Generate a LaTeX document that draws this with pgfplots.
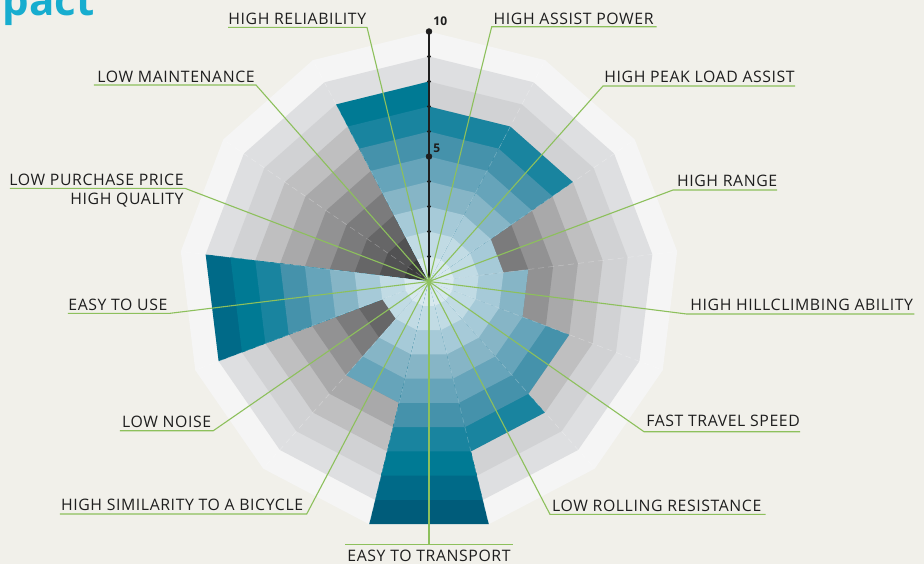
\documentclass[border=0pt]{standalone}
\usepackage{fontspec}
\setmainfont{Open Sans}
\newfontfamily\labelfont{Open Sans}[LetterSpace=3.8]
\usepackage{pgfplots}
\usepackage{pgfplotstable}
\pgfplotsset{compat=1.18}
\usepgfplotslibrary{polar}

\definecolor{bg}{HTML}{F1F0EA}
\definecolor{leaf}{HTML}{8DC05C}
\definecolor{ink}{HTML}{1E1E1E}
\definecolor{headline}{HTML}{17ADCF}
% grey rings, 1 = innermost
\definecolor{gr1}{HTML}{3C3C3D}
\definecolor{gr2}{HTML}{525253}
\definecolor{gr3}{HTML}{666667}
\definecolor{gr4}{HTML}{7B7B7C}
\definecolor{gr5}{HTML}{929293}
\definecolor{gr6}{HTML}{A9A9AA}
\definecolor{gr7}{HTML}{BFBFC0}
\definecolor{gr8}{HTML}{D1D2D4}
\definecolor{gr9}{HTML}{DEDFE1}
\definecolor{gr10}{HTML}{F5F5F5}
% blue rings
\definecolor{bl1}{HTML}{D7E8EE}
\definecolor{bl2}{HTML}{C1DBE4}
\definecolor{bl3}{HTML}{A6CAD8}
\definecolor{bl4}{HTML}{86B5C6}
\definecolor{bl5}{HTML}{66A4BA}
\definecolor{bl6}{HTML}{4592AB}
\definecolor{bl7}{HTML}{19849F}
\definecolor{bl8}{HTML}{007A94}
\definecolor{bl9}{HTML}{006A88}
\definecolor{bl10}{HTML}{005C7A}

% sector k runs from 90+k*360/13 to 90+(k+1)*360/13 degrees
\pgfplotstableread{
sector value
0  8
1  0
2  0
3  9
4  2
5  5
6  10
7  7
8  6
9  4
10 3
11 7
12 7
}\ratings

\begin{document}
\begin{tikzpicture}[x=1pt,y=1pt,font=\labelfont\fontsize{7.9}{9.5}\selectfont]
\useasboundingbox (-214.5,-141.25) rectangle (247.5,140.75);
\clip (-214.5,-141.25) rectangle (247.5,140.75);
\fill[bg] (-214.5,-141.25) rectangle (247.5,140.75);
\node[text=headline, font=\rmfamily\fontsize{21}{21}\selectfont\bfseries, anchor=base east, inner sep=0]
  at (-167,133.25) {Impact};

\begin{polaraxis}[
  at={(0,0)}, anchor=origin,
  scale only axis, width=250pt, height=250pt,
  xmin=0, xmax=360, ymin=0, ymax=10,
  hide axis, clip=false,
]
% grey 13-gon rings
\pgfplotsinvokeforeach{10,9,8,7,6,5,4,3,2,1}{
  \addplot[fill=gr#1, draw=none] coordinates {(90,#1) (117.692,#1) (145.385,#1) (173.077,#1)
    (200.769,#1) (228.462,#1) (256.154,#1) (283.846,#1) (311.538,#1) (339.231,#1)
    (366.923,#1) (394.615,#1) (422.308,#1)} -- cycle;
}
% blue part of each sector up to its rating
\pgfplotsinvokeforeach{0,1,2,3,4,5,6,7,8,9,10,11,12}{
  \pgfplotstablegetelem{#1}{value}\of\ratings
  \pgfmathtruncatemacro\vv{\pgfplotsretval}
  \pgfmathsetmacro\aA{90+#1*360/13}
  \pgfmathsetmacro\aB{90+(#1+1)*360/13}
  \ifnum\vv>0
    \foreach \i in {\vv,...,1}{
      \edef\tmp{\noexpand\addplot[fill=bl\i, draw=none] coordinates {(\aA,0) (\aA,\i) (\aB,\i)} -- cycle;}
      \tmp
    }
  \fi
  \edef\tmp{\noexpand\addplot[white, opacity=0.3, densely dashed, line width=0.25pt] coordinates {(\aA,0) (\aA,10)};}
  \tmp
}
% scale on the vertical
\addplot[ink, line width=0.7pt] coordinates {(90,0) (90,10)};
\addplot[only marks, mark=*, mark size=0.75pt, ink] coordinates {(90,1) (90,2) (90,3) (90,4) (90,6) (90,7) (90,8) (90,9)};
\addplot[only marks, mark=*, mark size=1.4pt, ink] coordinates {(90,5) (90,10)};
\end{polaraxis}

\node[anchor=base west, inner sep=0, text=ink, font=\rmfamily\fontsize{6}{6}\selectfont\bfseries] at (2,128.25) {10};
\node[anchor=base west, inner sep=0, text=ink, font=\rmfamily\fontsize{6}{6}\selectfont\bfseries] at (2,64.6) {5};

% leader lines
\begin{scope}[leaf, line width=0.55pt]
\draw (-100.5,127.1) -- (-31,127.1) -- (0,0);
\draw (-167.5,98.25) -- (-86.5,98.25) -- (0,0);
\draw (-209.5,46.6) -- (-122,46.6) -- (0,0);
\draw (-180.5,-15.9) -- (-129.5,-15.9) -- (0,0);
\draw (-154.5,-74.6) -- (-107.85,-74.6) -- (0,0);
\draw (-184.5,-116.25) -- (-61.15,-116.25) -- (0,0);
\draw (-42,-131.4) -- (41.85,-131.4);
\draw (0,-131.4) -- (0,0);
\draw (168.35,-116.4) -- (60.5,-116.4) -- (0,0);
\draw (185.5,-75.1) -- (107.5,-75.1) -- (0,0);
\draw (242.65,-16.25) -- (128.85,-16.25) -- (0,0);
\draw (174,45.75) -- (122,45.75) -- (0,0);
\draw (183,97.75) -- (87,97.75) -- (0,0);
\draw (113.85,127.4) -- (31.35,127.4) -- (0,0);
\end{scope}

% labels
\begin{scope}[every node/.style={inner sep=0, text=ink}]
\node[anchor=base west] at (-100.5,128.75) {HIGH RELIABILITY};
\node[anchor=base west] at (-166,99.75) {LOW MAINTENANCE};
\node[anchor=base east] at (-122.5,48.25) {LOW PURCHASE PRICE};
\node[anchor=base east] at (-122.5,38.75) {HIGH QUALITY};
\node[anchor=base west] at (-180.5,-14.25) {EASY TO USE};
\node[anchor=base west] at (-153.65,-72.9) {LOW NOISE};
\node[anchor=base west] at (-184.15,-114.6) {HIGH SIMILARITY TO A BICYCLE};
\node[anchor=base] at (0,-139.9) {EASY TO TRANSPORT};
\node[anchor=base west] at (61.35,-114.75) {LOW ROLLING RESISTANCE};
\node[anchor=base west] at (108.5,-72.6) {FAST TRAVEL SPEED};
\node[anchor=base west] at (130.5,-14.25) {HIGH HILLCLIMBING ABILITY};
\node[anchor=base west] at (123.85,47.75) {HIGH RANGE};
\node[anchor=base west] at (87.5,99.75) {HIGH PEAK LOAD ASSIST};
\node[anchor=base west] at (32.15,128.75) {HIGH ASSIST POWER};
\end{scope}
\end{tikzpicture}
\end{document}
